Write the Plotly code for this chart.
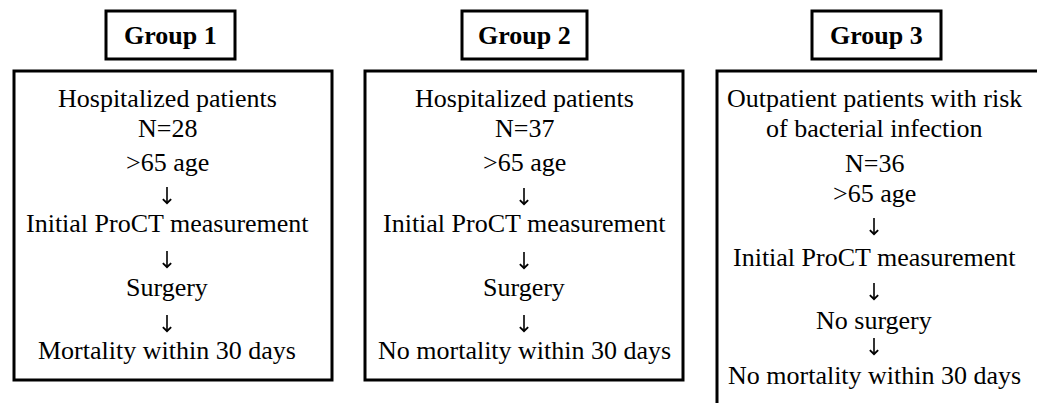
import plotly.graph_objects as go

# ---- content ----
group_titles = ["Group 1", "Group 2", "Group 3"]
group1_lines = ["Hospitalized patients", "N=28", ">65 age", "↓",
                "Initial ProCT measurement", "↓", "Surgery", "↓",
                "Mortality within 30 days"]
group2_lines = ["Hospitalized patients", "N=37", ">65 age", "↓",
                "Initial ProCT measurement", "↓", "Surgery", "↓",
                "No mortality within 30 days"]
group3_lines = ["Outpatient patients with risk", "of bacterial infection",
                "N=36", ">65 age", "↓", "Initial ProCT measurement", "↓",
                "No surgery", "↓", "No mortality within 30 days"]

W, H = 1045, 403
PAGE_MARGIN = 8  # default body margin of the html page
FONT = "Liberation Serif"

# layout geometry (page pixels)
title_boxes = [(106, 11, 235, 59), (462, 11, 587, 59), (812, 11, 941, 59)]
main_boxes = [(14, 71, 332, 380), (365, 71, 683, 380), (717, 71, 1040, 412)]
text_cx = [167, 524, 874]
line_ys = [
    [98, 128, 162, 195, 223, 259, 287, 323, 350],
    [98, 128, 162, 196, 223, 260, 287, 323, 350],
    [98, 128, 163, 193, 226, 257, 291, 320, 346, 375],
]
arrow_len = 19
groups = [group1_lines, group2_lines, group3_lines]

fig = go.Figure()
shapes = []
annotations = []
for i in range(3):
    x0, y0, x1, y1 = title_boxes[i]
    shapes.append(dict(type="rect", xref="x", yref="y", x0=x0, y0=y0, x1=x1, y1=y1,
                       line=dict(color="black", width=3), fillcolor="white"))
    annotations.append(dict(x=(x0 + x1) / 2, y=(y0 + y1) / 2, xref="x", yref="y",
                            text="<b>" + group_titles[i] + "</b>", showarrow=False,
                            xanchor="center", yanchor="middle",
                            font=dict(family=FONT, size=26, color="black")))
    x0, y0, x1, y1 = main_boxes[i]
    shapes.append(dict(type="rect", xref="x", yref="y", x0=x0, y0=y0, x1=x1, y1=y1,
                       line=dict(color="black", width=3), fillcolor="white"))
    for txt, yy in zip(groups[i], line_ys[i]):
        if txt == "↓":
            annotations.append(dict(x=text_cx[i], y=yy + arrow_len / 2, xref="x", yref="y",
                                    text="", showarrow=True, ax=0, ay=-arrow_len,
                                    arrowhead=4, arrowsize=1.0, arrowwidth=1.6,
                                    arrowcolor="black", standoff=0, startstandoff=0))
        else:
            annotations.append(dict(x=text_cx[i], y=yy, xref="x", yref="y",
                                    text=txt, showarrow=False,
                                    xanchor="center", yanchor="middle",
                                    font=dict(family=FONT, size=26, color="black")))

fig.update_layout(
    width=W - PAGE_MARGIN, height=H - PAGE_MARGIN,
    margin=dict(l=0, r=0, t=0, b=0, pad=0),
    paper_bgcolor="white", plot_bgcolor="white",
    font=dict(family=FONT),
    xaxis=dict(range=[PAGE_MARGIN, W], visible=False, fixedrange=True),
    yaxis=dict(range=[H, PAGE_MARGIN], visible=False, fixedrange=True),
    shapes=shapes, annotations=annotations, showlegend=False,
)
fig.write_html("out.html", config={"displayModeBar": False})
